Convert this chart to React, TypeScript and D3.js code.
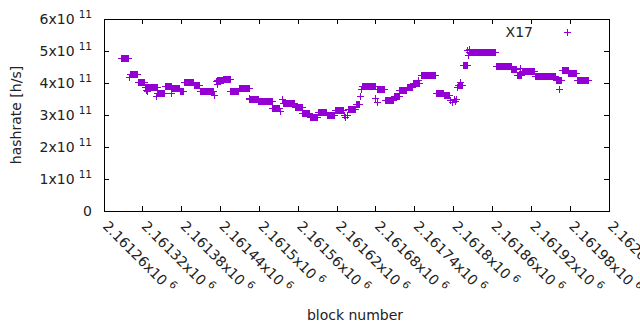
import React, { useEffect, useRef } from "react";
import * as d3 from "d3";

// hashrate runs (rate in units of 1e11 h/s)
const runStart = [
  2161287, 2161301, 2161313, 2161324, 2161343, 2161355, 2161366, 2161378, 2161384, 2161400,
  2161409, 2161436, 2161445, 2161456, 2161469, 2161485, 2161499, 2161521, 2161537, 2161556,
  2161567, 2161579, 2161591, 2161605, 2161617, 2161637, 2161650, 2161660, 2161683, 2161695,
  2161708, 2161717, 2161728, 2161738, 2161750, 2161773, 2161786, 2161807, 2161815, 2161825,
  2161866, 2161890, 2161898, 2161906, 2161926, 2161959, 2161968, 2161978, 2161992,
];
const runEnd = [
  2161298, 2161312, 2161323, 2161342, 2161353, 2161365, 2161377, 2161383, 2161399, 2161408,
  2161429, 2161444, 2161455, 2161468, 2161484, 2161498, 2161520, 2161531, 2161555, 2161566,
  2161578, 2161590, 2161604, 2161616, 2161630, 2161649, 2161655, 2161679, 2161694, 2161707,
  2161716, 2161727, 2161737, 2161748, 2161772, 2161785, 2161794, 2161814, 2161821, 2161864,
  2161889, 2161897, 2161905, 2161925, 2161958, 2161967, 2161977, 2161990, 2162008,
];
const runRate = [
  4.78, 4.27, 4.02, 3.86, 3.68, 3.88, 3.82, 3.74, 4.01, 3.93,
  3.75, 4.07, 4.12, 3.74, 3.82, 3.48, 3.43, 3.21, 3.37, 3.23,
  3.05, 2.92, 3.08, 2.97, 3.15, 3.16, 3.34, 3.90, 3.80, 3.46,
  3.57, 3.76, 3.87, 3.98, 4.23, 3.68, 3.62, 3.93, 4.56, 4.96,
  4.53, 4.41, 4.22, 4.35, 4.21, 4.08, 4.40, 4.31, 4.08,
];

// stray single blocks
const singleBlock = [
  2161299, 2161325, 2161327, 2161341, 2161364, 2161430, 2161433, 2161435, 2161484, 2161532,
  2161536, 2161631, 2161633, 2161636, 2161656, 2161658, 2161680, 2161682, 2161745, 2161795,
  2161798, 2161801, 2161803, 2161805, 2161806, 2161811, 2161822, 2161823, 2161824, 2161903,
  2161964,
];
const singleRate = [
  4.17, 3.76, 3.73, 3.58, 3.68, 3.62, 4.04, 3.96, 3.52, 3.10,
  3.49, 2.97, 2.92, 3.00, 3.58, 3.80, 3.52, 3.38, 4.07, 3.45,
  3.38, 3.50, 3.42, 3.48, 3.86, 4.02, 5.03, 4.85, 5.05, 4.44,
  3.80,
];

const yTicks = [0, 1, 2, 3, 4, 5, 6]; // x1e11
const xTicks = [
  2161260, 2161320, 2161380, 2161440, 2161500, 2161560, 2161620,
  2161680, 2161740, 2161800, 2161860, 2161920, 2161980, 2162040,
];
const seriesName = "X17";

const W = 640, H = 330;
const margin = { top: 19, right: 31, bottom: 119, left: 104 };
const FONT = "DejaVu Sans";
const COLOR = "#9400d3";

const App = () => {
  const svgRef = useRef(null);

  useEffect(() => {
    const svg = d3.select(svgRef.current);
    svg.selectAll("*").remove();

    const x = d3.scaleLinear()
      .domain([xTicks[0], xTicks[xTicks.length - 1]])
      .range([margin.left, W - margin.right]);
    const y = d3.scaleLinear()
      .domain([0, 6e11])
      .range([H - margin.bottom, margin.top]);

    // --- points, one per block
    const pts = [];
    runStart.forEach((s, i) => {
      for (let b = s; b <= runEnd[i]; b++) pts.push([b, runRate[i] * 1e11]);
    });
    singleBlock.forEach((b, i) => pts.push([b, singleRate[i] * 1e11]));

    const p = d3.path();
    const plus = (cx, cy) => {
      const a = 3.5;
      p.moveTo(cx - a, cy); p.lineTo(cx + a, cy);
      p.moveTo(cx, cy - a); p.lineTo(cx, cy + a);
    };
    pts.forEach(d => plus(x(d[0]), y(d[1])));

    // --- frame & ticks
    const x0 = margin.left, x1 = W - margin.right;
    const y0 = H - margin.bottom, y1 = margin.top;
    const g = svg.append("g").attr("shape-rendering", "crispEdges");
    const tl = 5;
    yTicks.forEach(v => {
      const yy = y(v * 1e11);
      g.append("line").attr("x1", x0).attr("x2", x0 + tl).attr("y1", yy).attr("y2", yy).attr("stroke", "#000");
      g.append("line").attr("x1", x1 - tl).attr("x2", x1).attr("y1", yy).attr("y2", yy).attr("stroke", "#000");
    });
    xTicks.forEach(v => {
      const xx = x(v);
      g.append("line").attr("x1", xx).attr("x2", xx).attr("y1", y0).attr("y2", y0 - tl).attr("stroke", "#000");
      g.append("line").attr("x1", xx).attr("x2", xx).attr("y1", y1).attr("y2", y1 + tl).attr("stroke", "#000");
    });
    g.append("rect")
      .attr("x", x0).attr("y", y1)
      .attr("width", x1 - x0).attr("height", y0 - y1)
      .attr("fill", "none").attr("stroke", "#000");

    // --- y labels
    const yl = svg.append("g").attr("font-family", FONT).attr("font-size", 14).attr("fill", "#222");
    yTicks.forEach(v => {
      const t = yl.append("text")
        .attr("x", 92).attr("y", y(v * 1e11) + 5)
        .attr("text-anchor", "end");
      if (v === 0) { t.text("0"); return; }
      t.append("tspan").text(`${v}x10`);
      t.append("tspan").attr("dx", 4).attr("dy", -6).attr("font-size", 10.5).text("11");
    });

    // --- x labels, rotated
    xTicks.forEach(v => {
      const t = yl.append("text")
        .attr("transform", `translate(${x(v) - 2},227) rotate(45)`);
      t.append("tspan").text(`${+(v / 1e6).toFixed(5)}x10`);
      t.append("tspan").attr("dx", 4).attr("dy", -6).attr("font-size", 10.5).text("6");
    });

    yl.append("text")
      .attr("transform", "translate(21,115) rotate(-90)")
      .attr("text-anchor", "middle")
      .text("hashrate [h/s]");
    yl.append("text")
      .attr("x", 355).attr("y", 320)
      .attr("text-anchor", "middle")
      .text("block number");

    // --- legend
    yl.append("text")
      .attr("x", 533).attr("y", 37)
      .attr("text-anchor", "end")
      .text(seriesName);
    plus(567, 32);

    svg.append("path")
      .attr("d", p.toString())
      .attr("fill", "none")
      .attr("stroke", COLOR)
      .attr("stroke-width", 1)
      .attr("shape-rendering", "crispEdges");
  }, []);

  return (
    <div style={{ position: "absolute", left: 0, top: 0, width: W, height: H, background: "#fff" }}>
      <svg ref={svgRef} width={W} height={H} style={{ display: "block" }} />
    </div>
  );
};

export default App;
